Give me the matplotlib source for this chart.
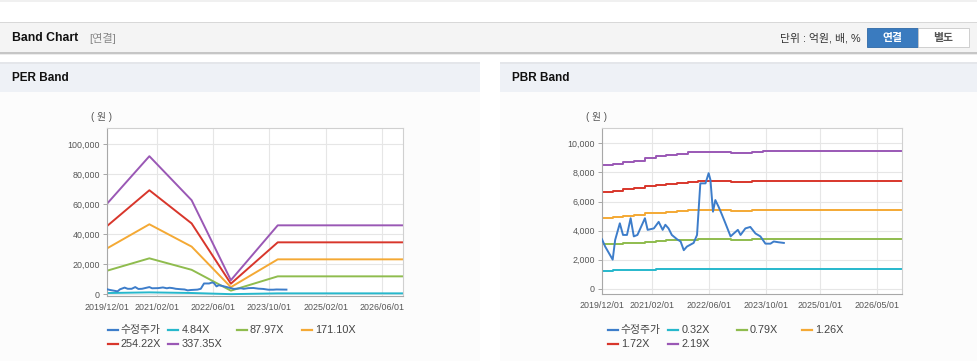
import datetime as dt

import matplotlib
matplotlib.use('Agg')
import matplotlib.pyplot as plt
from matplotlib.patches import Rectangle
from matplotlib.lines import Line2D
from matplotlib.ticker import FuncFormatter
import numpy as np

# ---- data ----
price_dates = ['2019-12-01', '2019-12-28', '2020-03-01', '2020-03-22', '2020-05-01', '2020-05-28',
               '2020-07-01', '2020-08-01', '2020-08-28', '2020-09-28', '2020-12-01', '2020-12-24',
               '2021-02-15', '2021-03-28', '2021-05-01', '2021-05-24', '2021-06-20', '2021-07-18',
               '2021-09-01', '2021-10-01', '2021-10-28', '2021-11-24', '2022-01-20', '2022-02-18',
               '2022-03-18', '2022-05-01', '2022-05-28', '2022-06-12', '2022-07-04', '2022-07-24',
               '2022-08-20', '2022-09-18', '2022-10-18', '2022-12-01', '2022-12-28', '2023-02-01',
               '2023-02-24', '2023-04-06', '2023-05-18', '2023-07-01', '2023-08-12', '2023-09-24',
               '2023-11-06', '2023-12-04', '2024-01-10', '2024-02-28']
price = [3400, 2900, 2000, 3350, 4500, 3700,
         3700, 4850, 3600, 3700, 4850, 4050,
         4150, 4600, 4050, 4400, 4150, 3700,
         3400, 3250, 2650, 2900, 3150, 3700,
         7250, 7250, 7950, 7500, 5300, 6100,
         5650, 5100, 4500, 3600, 3800, 4050,
         3700, 4150, 4250, 3800, 3600, 3100,
         3100, 3250, 3200, 3150]

# PER band: EPS (won) at turning points, bands = EPS x multiple
eps_dates = ['2019-12-01', '2020-12-01', '2021-12-01', '2022-11-05', '2023-12-15', '2026-12-01']
eps = [179, 273, 186, 28, 136.4, 136.4]
per_multiples = [4.84, 87.97, 171.10, 254.22, 337.35]
per_labels = ['4.84X', '87.97X', '171.10X', '254.22X', '337.35X']

# PBR band: BPS (won) per quarter, bands = BPS x multiple
bps_dates = ['2019-12-01', '2020-03-01', '2020-06-01', '2020-09-01', '2020-12-01', '2021-03-01',
             '2021-06-01', '2021-09-01', '2021-12-01', '2022-03-01', '2022-06-01', '2022-09-01',
             '2022-12-01', '2023-03-01', '2023-06-01', '2023-09-01', '2023-12-01', '2026-12-01']
bps = [3881, 3927, 3973, 4018, 4110, 4155, 4201, 4247, 4283, 4292, 4292, 4292,
       4269, 4269, 4292, 4324, 4324, 4324]
pbr_multiples = [0.32, 0.79, 1.26, 1.72, 2.19]
pbr_labels = ['0.32X', '0.79X', '1.26X', '1.72X', '2.19X']

per_xticks = ['2019/12/01', '2021/02/01', '2022/06/01', '2023/10/01', '2025/02/01', '2026/06/01']
pbr_xticks = ['2019/12/01', '2021/02/01', '2022/06/01', '2023/10/01', '2025/01/01', '2026/05/01']

price_label = '수정주가'
colors = ['#3d7dca', '#27b8cc', '#8fbc4e', '#f4a934', '#d8362b', '#9a58b5']

W, H = 978, 361
FONT = ['Liberation Sans', 'Noto Sans CJK KR']
plt.rcParams['font.family'] = FONT


def to_dates(strs):
    return [dt.datetime.strptime(s.replace('/', '-'), '%Y-%m-%d') for s in strs]


def fx(x):
    return x / W


def fy(y):
    return 1 - y / H


def box(fig, x0, y0, x1, y1, **kw):
    # page decoration, kept behind the axes
    fig.add_artist(Rectangle((fx(x0), fy(y1)), (x1 - x0) / W, (y1 - y0) / H,
                             transform=fig.transFigure, zorder=-5, **kw))


def band_chart(fig, left, right, top, bottom, base_dates, base, multiples, labels,
               ylim, yticks, xticks, step, legend_x0):
    ax = fig.add_axes([fx(left), fy(bottom), (right - left) / W, (bottom - top) / H])
    ax.set_facecolor('white')
    bd = to_dates(base_dates)
    for m, c in zip(multiples, colors[1:]):
        ax.plot(bd, np.array(base) * m, color=c, lw=1.4,
                drawstyle='steps-post' if step else 'default', zorder=2)
    ax.plot(to_dates(price_dates), price, color=colors[0], lw=1.4, zorder=3)

    ax.set_xlim(dt.datetime(2019, 12, 1), dt.datetime(2026, 12, 1))
    ax.set_ylim(*ylim)
    ax.set_xticks(to_dates(xticks))
    ax.set_xticklabels(xticks)
    ax.set_yticks(yticks)
    ax.yaxis.set_major_formatter(FuncFormatter(lambda v, p: f'{int(v):,}'))
    ax.tick_params(axis='x', length=0, pad=5, labelsize=6.4, labelcolor='#555555')
    ax.tick_params(axis='y', length=3, width=0.6, color='#999999', pad=2,
                   labelsize=6.4, labelcolor='#555555')
    ax.grid(True, color='#e6e6e6', lw=0.8, zorder=0)
    ax.set_axisbelow(True)
    for s in ax.spines.values():
        s.set_color('#d0d0d0')
        s.set_linewidth(0.8)
    ax.spines['left'].set_color('#a8a8a8')
    ax.spines['bottom'].set_color('#a8a8a8')

    fig.text(fx(left - 5), fy(117), '( 원 )', ha='center', va='center',
             fontsize=7, color='#555555')

    # legend, laid out as in the reference (4 per row)
    names = [price_label] + labels
    offs = [0, 60.6, 129, 194]
    for i, (name, c) in enumerate(zip(names, colors)):
        row, col = divmod(i, 4)
        x = legend_x0 + offs[col]
        y = 330 + row * 14
        fig.add_artist(Line2D([fx(x), fx(x + 10)], [fy(y), fy(y)], color=c, lw=1.6,
                              transform=fig.transFigure))
        fig.text(fx(x + 13), fy(y), name, ha='left', va='center',
                 fontsize=7.8, color='#444444')
    return ax


fig = plt.figure(figsize=(W / 100, H / 100), dpi=100)
fig.patch.set_facecolor('white')

# page header
box(fig, 0, 0, W, 2, color='#f0f0f0', lw=0)
box(fig, 0, 22, W, 53, facecolor='#f4f4f4', edgecolor='none')
box(fig, 0, 22, W, 23, color='#d8d8d8', lw=0)
box(fig, 0, 52, W, 53.5, color='#c6c6c6', lw=0)
box(fig, 0, 53.5, W, 55, color='#ececec', lw=0)
fig.text(fx(12), fy(38), 'Band Chart', ha='left', va='center', fontsize=8.8,
         fontweight='bold', color='#111111')
fig.text(fx(89), fy(38), '[연결]', ha='left', va='center', fontsize=8, color='#888888')
fig.text(fx(861), fy(38), '단위 : 억원, 배, %', ha='right', va='center', fontsize=7.8,
         color='#333333')
box(fig, 867, 28, 918, 47, facecolor='#3a7bbf', edgecolor='#2f69a6', lw=0.6)
box(fig, 918, 28, 969, 47, facecolor='white', edgecolor='#c8c8c8', lw=0.6)
fig.text(fx(892.5), fy(37.5), '연결', ha='center', va='center', fontsize=7.8,
         fontweight='bold', color='white')
fig.text(fx(943.5), fy(37.5), '별도', ha='center', va='center', fontsize=7.8,
         fontweight='bold', color='#555555')

# panels
for x0, x1, title in [(0, 480, 'PER Band'), (500, W, 'PBR Band')]:
    box(fig, x0, 92, x1, H, facecolor='#fcfcfc', edgecolor='none')
    box(fig, x0, 63, x1, 92, facecolor='#eef1f6', edgecolor='none')
    box(fig, x0, 62, x1, 63.5, color='#e4e6ea', lw=0)
    fig.text(fx(x0 + 12), fy(78), title, ha='left', va='center', fontsize=8.5,
             fontweight='bold', color='#111111')

band_chart(fig, 107, 403, 128, 296, eps_dates, eps, per_multiples, per_labels,
           (-1100, 110900), range(0, 100001, 20000), per_xticks, False, 107.7)
band_chart(fig, 602, 902, 128, 294, bps_dates, bps, pbr_multiples, pbr_labels,
           (-365, 11060), range(0, 10001, 2000), pbr_xticks, True, 607.7)

fig.savefig('out.png', dpi=100)
